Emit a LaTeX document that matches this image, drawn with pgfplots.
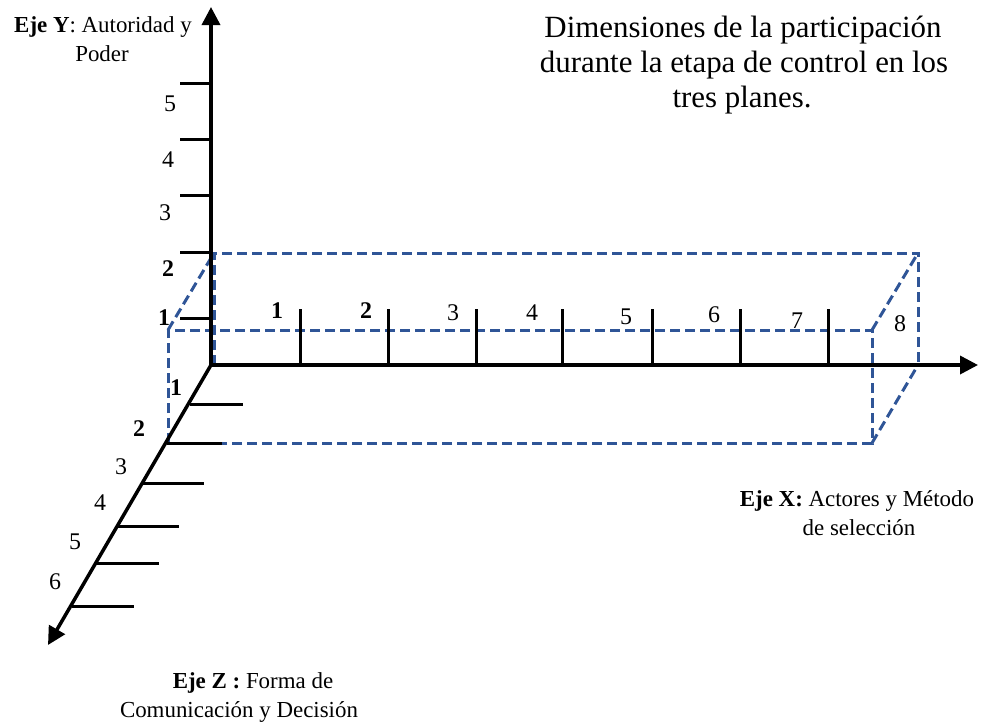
\documentclass[border=0pt]{standalone}
\usepackage{pgfplots}
\pgfplotsset{compat=1.18}
\usepackage{fontspec}
\setmainfont{Liberation Serif}
\usetikzlibrary{arrows.meta}
\definecolor{boxblue}{HTML}{2F5597}
\begin{document}
\begin{tikzpicture}[
    axisline/.style={black, line width=3.5bp},
    tickline/.style={black, line width=3bp},
    boxline/.style={boxblue, line width=3bp, dash pattern=on 10bp off 5bp},
    ticklab/.style={font=\fontsize{24}{28}\selectfont, anchor=center},
    axlab/.style={anchor=base, font=\fontsize{23}{28}\selectfont},
    ttl/.style={anchor=base, font=\fontsize{31}{35}\selectfont},
]
\begin{axis}[
    width=982bp, height=724bp, scale only axis,
    xmin=0, xmax=982, ymin=0, ymax=724, y dir=reverse,
    hide axis, clip=false,
]
\path (axis cs:0,0) rectangle (axis cs:982,724);

% dashed box (back face, front face, edges)
\addplot[boxline] coordinates {(214,365) (214,253) (918,253) (918,365) (214,365)};
\addplot[boxline] coordinates {(168,443) (168,330) (872,330) (872,443) (168,443)};
\addplot[boxline] coordinates {(168,330) (214,253)};
\addplot[boxline] coordinates {(872,330) (918,253)};
\addplot[boxline] coordinates {(872,443) (918,365)};

% axes
\addplot[axisline, -{Triangle[length=18bp, width=18bp]}] coordinates {(211,366) (211,7)};
\addplot[axisline, -{Triangle[length=18bp, width=18bp]}] coordinates {(210,365) (978,365)};
\addplot[axisline, -{Triangle[length=18bp, width=18bp]}] coordinates {(211,365) (48,645)};

% Y ticks
\addplot[tickline] coordinates {(180,83) (211,83)};
\addplot[tickline] coordinates {(180,139) (211,139)};
\addplot[tickline] coordinates {(180,195) (211,195)};
\addplot[tickline] coordinates {(180,252) (211,252)};
\addplot[tickline] coordinates {(180,318) (211,318)};

% X ticks
\addplot[tickline] coordinates {(300,309) (300,365)};
\addplot[tickline] coordinates {(388,309) (388,365)};
\addplot[tickline] coordinates {(476,309) (476,365)};
\addplot[tickline] coordinates {(562,309) (562,365)};
\addplot[tickline] coordinates {(652,309) (652,365)};
\addplot[tickline] coordinates {(740,309) (740,365)};
\addplot[tickline] coordinates {(828,309) (828,365)};

% Z ticks
\addplot[tickline] coordinates {(190,404) (243,404)};
\addplot[tickline] coordinates {(167,443) (222,443)};
\addplot[tickline] coordinates {(143,483) (204,483)};
\addplot[tickline] coordinates {(118,526) (179,526)};
\addplot[tickline] coordinates {(96,563) (159,563)};
\addplot[tickline] coordinates {(72,606) (134,606)};

% Y tick labels
\node[ticklab] at (axis cs:170,104) {5};
\node[ticklab] at (axis cs:168,160) {4};
\node[ticklab] at (axis cs:165,213) {3};
\node[ticklab] at (axis cs:168,269) {\bfseries 2};
\node[ticklab] at (axis cs:164,318) {\bfseries 1};

% X tick labels
\node[ticklab] at (axis cs:277,311) {\bfseries 1};
\node[ticklab] at (axis cs:366,311) {\bfseries 2};
\node[ticklab] at (axis cs:453,313) {3};
\node[ticklab] at (axis cs:532,313) {4};
\node[ticklab] at (axis cs:626,317) {5};
\node[ticklab] at (axis cs:714,315) {6};
\node[ticklab] at (axis cs:797,321) {7};
\node[ticklab] at (axis cs:900,324) {8};

% Z tick labels
\node[ticklab] at (axis cs:176,388) {\bfseries 1};
\node[ticklab] at (axis cs:139,429) {\bfseries 2};
\node[ticklab] at (axis cs:121,467) {3};
\node[ticklab] at (axis cs:100,503) {4};
\node[ticklab] at (axis cs:75,542) {5};
\node[ticklab] at (axis cs:55,582) {6};

% axis titles
\node[axlab] at (axis cs:103,32) {\textbf{Eje Y}: Autoridad y};
\node[axlab] at (axis cs:102,61) {Poder};
\node[axlab] at (axis cs:857,506) {\textbf{Eje X:} Actores y Método};
\node[axlab] at (axis cs:859,535) {de selección};
\node[axlab] at (axis cs:253,688) {\textbf{Eje Z :} Forma de};
\node[axlab] at (axis cs:239,717) {Comunicación y Decisión};

% title
\node[ttl] at (axis cs:743,37) {Dimensiones de la participación};
\node[ttl] at (axis cs:744,72) {durante la etapa de control en los};
\node[ttl] at (axis cs:742,107) {tres planes.};
\end{axis}
\end{tikzpicture}
\end{document}
